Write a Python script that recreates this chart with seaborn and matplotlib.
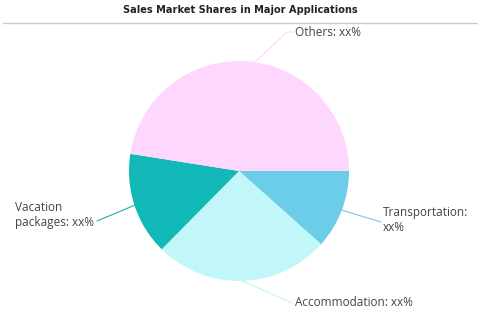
import matplotlib
matplotlib.use("Agg")
import matplotlib.pyplot as plt
import seaborn as sns
import numpy as np
from matplotlib.lines import Line2D
from matplotlib import font_manager

categories = ["Transportation", "Accommodation", "Vacation\npackages", "Others"]
shares = [11.6, 25.8, 15.1, 47.5]
value_labels = ["xx%", "xx%", "xx%", "xx%"]
colors = ["#6ccde8", "#c2f7f9", "#12b8b8", "#fdd7fd"]

sns.set_theme(style="white")
plt.rcParams['font.family'] = ['Open Sans', 'DejaVu Sans']

fig = plt.figure(figsize=(4.8, 3.2), dpi=100)
ax = fig.add_axes([0, 0, 1, 1])
ax.set_xlim(0, 480)
ax.set_ylim(0, 320)
ax.set_aspect('equal')
ax.axis('off')

cx, cy, r = 239, 320 - 171, 110
wedges, _ = ax.pie(shares, colors=sns.color_palette(colors), startangle=0,
                   counterclock=False, center=(cx, cy), radius=r,
                   wedgeprops=dict(linewidth=0))
ax.set_xlim(0, 480)
ax.set_ylim(0, 320)

label_pos = [(383, 220), (295, 303), (15, 215), (295, 32)]
knees = [(381, 222), (292, 303), (97, 221), (287, 32)]
for w, cat, vl, (tx, ty), (kx, ky), lc in zip(wedges, categories, value_labels, label_pos, knees, colors):
    mid = np.deg2rad((w.theta1 + w.theta2) / 2)
    px, py = cx + r * np.cos(mid), cy + r * np.sin(mid)
    if cat == "Others":
        xs, ys = [px + 6, kx, kx + 6], [py - 2, 320 - ky, 320 - ky]
    else:
        xs, ys = [px, kx], [py, 320 - ky]
    ax.add_line(Line2D(xs, ys, color=sns.desaturate(lc, 0.9), lw=0.8))
    if cat == "Transportation":
        txt = f"{cat}:\n{vl}"
    elif cat.startswith("Vacation"):
        txt = f"Vacation\npackages: {vl}"
    else:
        txt = f"{cat}: {vl}"
    ax.text(tx, 320 - ty, txt, ha='left', va='center', fontsize=8.5, color="#444444",
            linespacing=1.2)

cond = None
for f in font_manager.fontManager.ttflist:
    if ('Narrow' in f.name or 'Condensed' in f.name or f.stretch in ('condensed', 'semi-condensed')) and f.weight in ('bold', 700, 'heavy', 800, 900):
        cond = f
        break
title_kw = dict(fontweight='bold', color="#222222")
if cond is not None:
    title_kw.update(family=cond.name, fontstretch=cond.stretch, fontsize=7.8)
else:
    title_kw.update(family=['DejaVu Sans'], fontsize=7)
fig.text(0.5, 1 - 10 / 320, "Sales Market Shares in Major Applications", ha='center', va='center',
         **title_kw)
fig.add_artist(Line2D([3 / 480, 477 / 480], [1 - 23 / 320, 1 - 23 / 320], color="#cccccc", lw=1))

fig.savefig("out.png", dpi=100)
